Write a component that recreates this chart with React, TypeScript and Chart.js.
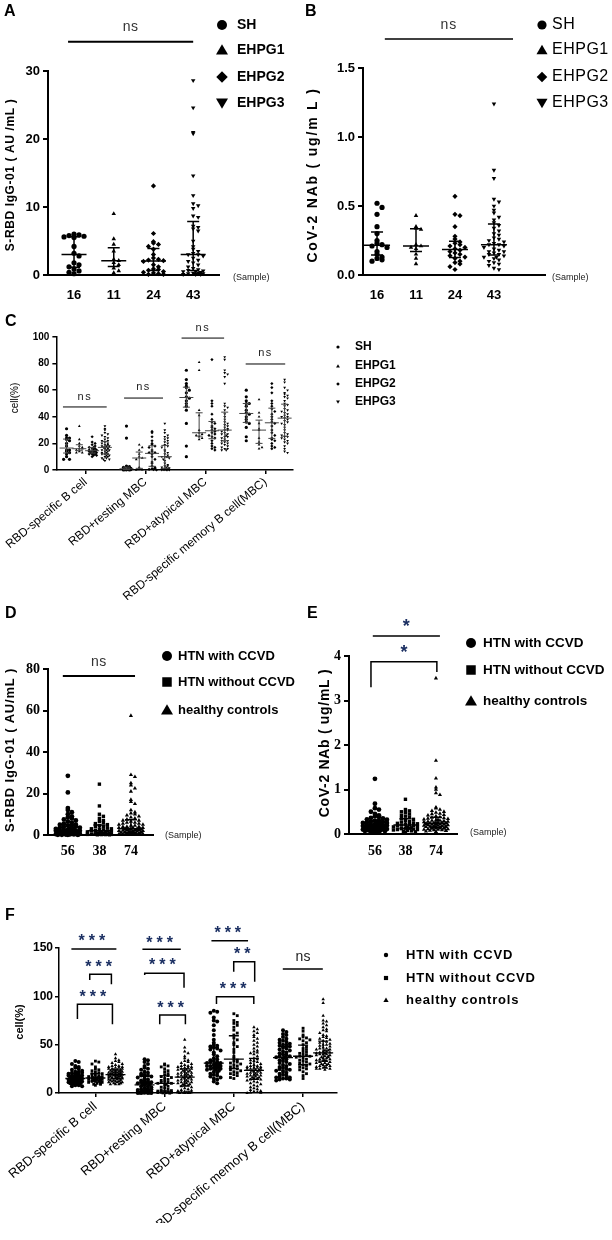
import React, { useEffect, useRef } from 'react';
import { Chart, registerables } from 'chart.js';

Chart.register(...registerables);

const W = 612;
const H = 1240;
const SANS = '"Liberation Sans", Arial, Helvetica, sans-serif';
const SERIF = '"Liberation Serif", "Times New Roman", serif';
const STAR = '#1b2f62';

// ---------------- Panel A : S-RBD IgG-01 (AU/mL) ----------------
const A_CATS = ['16', '11', '24', '43'];
const A_SH = [6.0, 5.9, 5.8, 5.7, 5.6, 5.5, 4.2, 3.2, 2.8, 1.8, 1.5, 1.2, 0.9, 0.6, 0.4, 0.2];
const A_EHPG1 = [9.0, 5.3, 4.5, 3.5, 2.3, 2.1, 1.8, 1.5, 1.0, 0.6, 0.3];
const A_EHPG2 = [13.1, 6.1, 4.9, 4.7, 4.5, 4.2, 3.8, 3.0, 2.5, 2.3, 2.2, 2.1, 2.0, 1.5, 1.2, 0.9, 0.8, 0.7, 0.5, 0.4, 0.3, 0.2, 0.1, 0.1];
const A_EHPG3 = [28.6, 24.6, 21.0, 20.8, 14.6, 11.7, 10.5, 10.2, 9.8, 8.7, 8.5, 7.2, 7.0, 6.8, 6.5, 5.0, 4.2, 3.8, 3.5, 3.2, 3.0, 3.0, 2.8, 2.5, 2.2, 2.0, 1.8, 1.5, 1.2, 1.0, 0.8, 0.7, 0.6, 0.5, 0.5, 0.4, 0.3, 0.3, 0.2, 0.2, 0.1, 0.1, 0.1];

// ---------------- Panel B : CoV-2 NAb (ug/mL) ----------------
const B_CATS = ['16', '11', '24', '43'];
const B_SH = [0.52, 0.49, 0.44, 0.35, 0.30, 0.25, 0.23, 0.22, 0.21, 0.20, 0.17, 0.15, 0.13, 0.12, 0.11, 0.10];
const B_EHPG1 = [0.43, 0.35, 0.34, 0.33, 0.22, 0.21, 0.20, 0.19, 0.15, 0.12, 0.08];
const B_EHPG2 = [0.57, 0.44, 0.43, 0.35, 0.28, 0.26, 0.24, 0.23, 0.22, 0.21, 0.20, 0.19, 0.18, 0.17, 0.16, 0.15, 0.14, 0.13, 0.12, 0.10, 0.09, 0.08, 0.06, 0.04];
const B_EHPG3 = [1.24, 0.76, 0.70, 0.55, 0.53, 0.50, 0.47, 0.45, 0.42, 0.40, 0.38, 0.36, 0.34, 0.32, 0.30, 0.29, 0.27, 0.26, 0.25, 0.24, 0.23, 0.22, 0.22, 0.21, 0.20, 0.19, 0.18, 0.17, 0.17, 0.16, 0.15, 0.15, 0.14, 0.13, 0.13, 0.12, 0.11, 0.10, 0.09, 0.08, 0.07, 0.05, 0.04];

// ---------------- Panel C : B-cell subsets (cell %) by EHPG ----------------
const C_CATS = ['RBD-specific B cell', 'RBD+resting MBC', 'RBD+atypical MBC', 'RBD-specific memory B cell(MBC)'];
const C_SH = [
  [31, 26, 24, 24, 23, 22, 20, 18, 15, 15, 14, 13, 12, 10, 8, 8],
  [33, 24, 3, 2.5, 2, 1.5, 1.2, 1, 0.8, 0.5, 0.5, 0.3, 0.2, 0.1, 0, 0],
  [75, 68, 65, 63, 62, 60, 58, 55, 54, 52, 50, 48, 45, 35, 18, 10],
  [60, 55, 52, 50, 50, 48, 45, 43, 42, 40, 38, 36, 35, 32, 25, 22],
];
const C_EHPG1 = [
  [33, 23, 20, 18, 17, 16, 16, 15, 14, 13, 13],
  [19, 17, 15, 12, 10, 9, 8, 2, 0.5, 0.2, 0],
  [81, 75, 45, 41, 30, 28, 27, 26, 25, 24, 23],
  [53, 43, 40, 35, 31, 30, 24, 21, 19, 17, 16],
];
const C_EHPG2 = [
  [25, 21, 20, 19, 18, 17, 17, 16, 16, 15, 15, 15, 14, 14, 14, 13, 13, 13, 12, 12, 12, 11, 11, 10],
  [29, 28, 25, 22, 20, 19, 18, 17, 15, 14, 13, 13, 12, 10, 8, 6, 5, 3, 2, 1, 1, 0.5, 0.3, 0],
  [83, 52, 50, 48, 42, 38, 36, 35, 33, 32, 31, 30, 29, 28, 27, 26, 25, 24, 22, 20, 18, 17, 16, 15],
  [65, 62, 58, 52, 50, 48, 46, 44, 42, 40, 38, 36, 35, 33, 30, 28, 26, 24, 23, 22, 20, 18, 17, 16],
];
const C_EHPG3 = [
  [33, 31, 30, 28, 27, 26, 25, 24, 23, 22, 22, 21, 20, 20, 19, 19, 18, 18, 18, 17, 17, 17, 16, 16, 15, 15, 15, 14, 14, 13, 13, 12, 12, 12, 11, 11, 10, 10, 9, 9, 8, 8, 7],
  [35, 30, 28, 26, 25, 24, 23, 22, 21, 20, 19, 18, 17, 15, 14, 13, 12, 11, 10, 10, 10, 10, 9, 8, 7, 5, 4, 3, 3, 2, 2, 1.5, 1, 1, 0.8, 0.5, 0.4, 0.3, 0.2, 0.1, 0, 0, 0],
  [85, 83, 75, 73, 72, 70, 65, 50, 48, 47, 45, 42, 40, 38, 36, 35, 34, 33, 32, 31, 30, 30, 29, 28, 27, 27, 26, 25, 25, 24, 23, 22, 22, 21, 20, 20, 19, 18, 17, 16, 16, 15, 15],
  [68, 66, 62, 60, 58, 57, 56, 55, 54, 52, 50, 49, 48, 46, 45, 44, 43, 42, 41, 40, 40, 39, 38, 37, 36, 35, 34, 32, 30, 28, 27, 26, 25, 25, 24, 23, 22, 21, 20, 18, 16, 14, 13],
];
const EHPG_LEGEND = ['SH', 'EHPG1', 'EHPG2', 'EHPG3'];

// ---------------- Panel D : S-RBD IgG-01 by HTN ----------------
const D_CATS = ['56', '38', '74'];
const D_WITH = [28.5, 20.5, 13, 12, 11, 10, 9, 8.5, 8, 7.5, 7, 6.5, 6, 5.5, 5, 5, 4.5, 4.5, 4, 4, 3.5, 3.5, 3, 3, 3, 2.5, 2.5, 2.5, 2, 2, 2, 2, 1.8, 1.5, 1.5, 1.5, 1.2, 1.2, 1, 1, 1, 0.8, 0.8, 0.7, 0.6, 0.5, 0.5, 0.4, 0.3, 0.3, 0.2, 0.2, 0.1, 0.1, 0.1, 0.1];
const D_WITHOUT = [24.5, 14, 10, 9, 8, 7, 6.5, 6, 5.5, 5, 4.5, 4, 4, 3.5, 3, 3, 2.8, 2.5, 2.2, 2, 2, 1.8, 1.5, 1.5, 1.2, 1, 1, 0.8, 0.7, 0.6, 0.5, 0.4, 0.3, 0.3, 0.2, 0.2, 0.1, 0.1];
const D_HEALTHY = [57.5, 29, 28, 25, 24, 22.5, 21, 17, 16, 15, 12, 11, 10.5, 10, 9.5, 9, 8.5, 8, 7.5, 7, 7, 6.5, 6, 6, 5.5, 5.5, 5, 5, 4.5, 4.5, 4, 4, 4, 3.5, 3.5, 3.5, 3, 3, 3, 3, 2.8, 2.5, 2.5, 2.5, 2.2, 2, 2, 2, 1.8, 1.8, 1.5, 1.5, 1.5, 1.2, 1.2, 1, 1, 1, 0.8, 0.8, 0.7, 0.6, 0.5, 0.5, 0.4, 0.4, 0.3, 0.3, 0.2, 0.2, 0.1, 0.1, 0.1, 0.1];

// ---------------- Panel E : CoV-2 NAb by HTN ----------------
const E_CATS = ['56', '38', '74'];
const E_WITH = [1.24, 0.68, 0.58, 0.55, 0.5, 0.45, 0.42, 0.4, 0.38, 0.36, 0.35, 0.33, 0.32, 0.3, 0.3, 0.28, 0.27, 0.26, 0.25, 0.25, 0.24, 0.23, 0.22, 0.22, 0.21, 0.2, 0.2, 0.19, 0.18, 0.18, 0.17, 0.16, 0.16, 0.15, 0.15, 0.14, 0.14, 0.13, 0.13, 0.12, 0.12, 0.11, 0.11, 0.1, 0.1, 0.09, 0.09, 0.08, 0.08, 0.07, 0.07, 0.06, 0.05, 0.05, 0.04, 0.03];
const E_WITHOUT = [0.78, 0.55, 0.52, 0.5, 0.48, 0.45, 0.42, 0.4, 0.38, 0.35, 0.33, 0.3, 0.28, 0.27, 0.25, 0.24, 0.23, 0.22, 0.21, 0.2, 0.19, 0.18, 0.17, 0.16, 0.15, 0.14, 0.13, 0.13, 0.12, 0.11, 0.1, 0.1, 0.09, 0.08, 0.07, 0.06, 0.05, 0.04];
const E_HEALTHY = [3.5, 1.65, 1.25, 1.05, 1.0, 0.92, 0.88, 0.6, 0.58, 0.55, 0.52, 0.5, 0.48, 0.46, 0.45, 0.43, 0.42, 0.4, 0.38, 0.37, 0.36, 0.35, 0.34, 0.33, 0.32, 0.31, 0.3, 0.3, 0.29, 0.28, 0.28, 0.27, 0.26, 0.26, 0.25, 0.25, 0.24, 0.24, 0.23, 0.23, 0.22, 0.22, 0.21, 0.21, 0.2, 0.2, 0.19, 0.19, 0.18, 0.18, 0.17, 0.17, 0.16, 0.16, 0.15, 0.15, 0.14, 0.14, 0.13, 0.13, 0.12, 0.12, 0.11, 0.11, 0.1, 0.1, 0.09, 0.09, 0.08, 0.08, 0.07, 0.06, 0.05, 0.04];

// ---------------- Panel F : B-cell subsets by HTN ----------------
const F_CATS = ['RBD-specific B cell', 'RBD+resting MBC', 'RBD+atypical MBC', 'RBD-specific memory B cell(MBC)'];
const F_WITH = [
  [33, 32, 30, 28, 27, 26, 25, 24, 23, 22, 22, 21, 21, 20, 20, 19, 19, 18, 18, 18, 17, 17, 17, 16, 16, 16, 16, 15, 15, 15, 15, 14, 14, 14, 14, 13, 13, 13, 13, 12, 12, 12, 12, 11, 11, 11, 10, 10, 10, 9, 9, 9, 8, 8, 7, 7],
  [35, 34, 32, 30, 28, 26, 25, 24, 22, 21, 20, 19, 18, 18, 17, 16, 15, 14, 13, 12, 12, 11, 11, 10, 10, 10, 9, 9, 8, 7, 7, 6, 5, 5, 4, 4, 3, 3, 2, 2, 2, 1.5, 1.5, 1, 1, 1, 0.8, 0.6, 0.5, 0.4, 0.3, 0.2, 0.1, 0, 0, 0],
  [85, 84, 83, 78, 75, 74, 70, 65, 60, 55, 52, 50, 49, 48, 47, 46, 45, 44, 42, 40, 38, 36, 35, 34, 33, 32, 32, 31, 31, 30, 30, 29, 29, 28, 28, 28, 27, 27, 26, 26, 25, 25, 24, 24, 23, 22, 21, 20, 19, 18, 17, 16, 15, 14, 12, 10],
  [65, 63, 61, 60, 58, 56, 55, 54, 53, 52, 51, 50, 50, 49, 48, 47, 46, 45, 44, 43, 42, 41, 40, 39, 38, 38, 37, 37, 36, 35, 34, 33, 32, 31, 30, 29, 28, 27, 26, 25, 25, 24, 23, 22, 21, 20, 19, 18, 17, 16, 16, 15, 15, 14, 14, 13],
];
const F_WITHOUT = [
  [33, 32, 30, 27, 25, 24, 23, 22, 21, 20, 20, 19, 18, 18, 17, 17, 16, 16, 16, 15, 15, 15, 14, 14, 14, 13, 13, 13, 12, 12, 12, 11, 11, 10, 10, 9, 9, 8],
  [30, 29, 28, 27, 25, 23, 22, 20, 19, 18, 17, 16, 15, 14, 13, 12, 11, 11, 10, 10, 9, 8, 7, 6, 5, 4, 3, 2.5, 2, 1.5, 1, 0.8, 0.6, 0.5, 0.3, 0.2, 0.1, 0],
  [82, 80, 75, 73, 72, 70, 68, 65, 62, 60, 57, 55, 52, 50, 48, 45, 42, 38, 36, 34, 33, 32, 31, 30, 29, 28, 27, 26, 25, 24, 23, 22, 21, 20, 19, 18, 16, 15],
  [67, 64, 60, 58, 57, 56, 55, 54, 52, 50, 48, 46, 45, 43, 42, 41, 40, 39, 38, 38, 37, 36, 35, 34, 33, 32, 31, 30, 29, 28, 27, 26, 25, 24, 22, 20, 18, 15],
];
const F_HEALTHY = [
  [40, 36, 34, 33, 32, 31, 30, 29, 28, 28, 27, 27, 26, 26, 25, 25, 25, 24, 24, 24, 23, 23, 23, 22, 22, 22, 22, 21, 21, 21, 21, 20, 20, 20, 20, 20, 19, 19, 19, 19, 18, 18, 18, 18, 17, 17, 17, 17, 16, 16, 16, 16, 15, 15, 15, 15, 14, 14, 14, 13, 13, 13, 12, 12, 12, 11, 11, 11, 10, 10, 10, 9, 9, 9],
  [55, 47, 43, 41, 38, 36, 34, 33, 32, 31, 30, 29, 28, 28, 27, 27, 26, 26, 25, 25, 24, 24, 23, 23, 22, 22, 21, 21, 20, 20, 19, 19, 18, 18, 17, 17, 17, 16, 16, 15, 15, 14, 14, 13, 13, 12, 12, 11, 11, 10, 10, 9, 9, 8, 8, 7, 6, 5, 4, 3, 2.5, 2, 1.5, 1, 1, 0.8, 0.6, 0.5, 0.4, 0.3, 0.2, 0.1, 0, 0],
  [68, 66, 64, 62, 60, 58, 56, 54, 52, 50, 48, 46, 44, 43, 42, 41, 40, 38, 36, 35, 34, 33, 32, 31, 30, 29, 28, 28, 27, 27, 26, 26, 25, 25, 25, 24, 24, 23, 23, 22, 22, 21, 21, 20, 20, 19, 19, 18, 18, 17, 17, 16, 16, 15, 15, 14, 14, 13, 12, 11, 10, 9, 8, 7, 6, 5, 4, 3, 2, 1.5, 1, 0.5, 0.2, 0],
  [97, 93, 80, 75, 74, 72, 70, 68, 66, 65, 64, 62, 60, 59, 58, 57, 56, 55, 54, 53, 52, 51, 50, 50, 49, 48, 47, 46, 46, 45, 45, 44, 44, 43, 43, 42, 42, 41, 41, 40, 40, 40, 39, 39, 38, 38, 37, 37, 36, 36, 35, 35, 34, 34, 33, 33, 32, 32, 31, 31, 30, 30, 29, 29, 28, 28, 27, 27, 26, 26, 25, 25, 25, 24],
];
const HTN_LEGEND = ['HTN with CCVD', 'HTN without CCVD', 'healthy controls'];

// ---------------- types & helpers ----------------
type Style = 'circle' | 'triangle' | 'rectRot' | 'rect' | 'invTri';
interface Grp { x: number; values: number[]; style: Style; r: number }
interface Sig { x1: number; x2: number; y: number; legs?: [number, number]; text: string; dy: number }
interface Txt { text: string; x: number; y: number; font: string; align?: CanvasTextAlign; rot?: boolean; ls?: number; color?: string }
interface Legend { x: number; tx: number; ys: number[]; labels: string[]; styles: Style[]; r: number; font: string; ls?: number }
interface FontSpec { family: string; size: number; weight?: any }
interface Panel {
  area: { l: number; t: number; r: number; b: number };
  xMin: number; xMax: number; yMax: number; yStep: number; yDec: number;
  cats: string[]; catPos: number[]; rot: number; xTicks: boolean; xPad: number;
  xFont: FontSpec; yFont: FontSpec; yTickLen: number; yPad: number; axisW: number;
  groups: Grp[]; dot: number; half: number;
  bar: { med: number; cap: number; w: number; color: string };
  sigW: number; sigFont: string; sigColor: string; sigLs: number; sigs: Sig[];
  texts: Txt[]; legend: Legend;
}

const EHPG_STYLES: Style[] = ['circle', 'triangle', 'rectRot', 'invTri'];
const HTN_STYLES: Style[] = ['circle', 'rect', 'triangle'];

function swarm(values: number[], cx: number, yPerPx: number, xPerPx: number, dot: number, half: number) {
  const slots = Math.max(0, Math.floor(half / dot));
  const n = 2 * slots + 1;
  const count = new Map<number, number>();
  const order = values.map((_, i) => i).sort((a, b) => values[b] - values[a]);
  const out: { x: number; y: number }[] = new Array(values.length);
  for (const i of order) {
    const v = values[i];
    const bin = Math.round(v / (yPerPx * dot));
    const k = count.get(bin) ?? 0;
    count.set(bin, k + 1);
    const kk = k % n;
    const layer = Math.floor(k / n);
    let off = kk === 0 ? 0 : (kk % 2 ? 1 : -1) * Math.ceil(kk / 2) * dot;
    if (layer % 2 === 1) {
      off += dot / 2;
      if (off > half) off -= dot;
    }
    out[i] = { x: cx + off * xPerPx, y: v };
  }
  return out;
}

function quant(s: number[], p: number) {
  const pos = (s.length - 1) * p;
  const lo = Math.floor(pos);
  const hi = Math.ceil(pos);
  return s[lo] + (s[hi] - s[lo]) * (pos - lo);
}

function drawText(ctx: CanvasRenderingContext2D, t: Txt) {
  ctx.save();
  ctx.font = t.font;
  ctx.fillStyle = t.color ?? '#000';
  ctx.textAlign = t.align ?? 'center';
  ctx.textBaseline = 'middle';
  (ctx as any).letterSpacing = `${t.ls ?? 0}px`;
  ctx.translate(t.x, t.y);
  if (t.rot) ctx.rotate(-Math.PI / 2);
  ctx.fillText(t.text, 0, 0);
  ctx.restore();
}

function drawMarker(ctx: CanvasRenderingContext2D, style: Style, x: number, y: number, r: number) {
  ctx.beginPath();
  if (style === 'circle') ctx.arc(x, y, r, 0, Math.PI * 2);
  else if (style === 'rect') ctx.rect(x - r * 0.95, y - r * 0.95, r * 1.9, r * 1.9);
  else if (style === 'rectRot') {
    ctx.moveTo(x, y - r * 1.15); ctx.lineTo(x + r * 1.15, y); ctx.lineTo(x, y + r * 1.15); ctx.lineTo(x - r * 1.15, y);
  } else if (style === 'triangle') {
    ctx.moveTo(x, y - r * 1.15); ctx.lineTo(x + r * 1.2, y + r * 0.9); ctx.lineTo(x - r * 1.2, y + r * 0.9);
  } else {
    ctx.moveTo(x, y + r * 1.15); ctx.lineTo(x + r * 1.2, y - r * 0.9); ctx.lineTo(x - r * 1.2, y - r * 0.9);
  }
  ctx.closePath();
  ctx.fillStyle = '#000';
  ctx.fill();
}

function extras(p: Panel) {
  return {
    id: 'extras',
    afterDatasetsDraw(chart: any) {
      const ctx: CanvasRenderingContext2D = chart.ctx;
      const xs = chart.scales.x;
      const ys = chart.scales.y;
      ctx.save();
      ctx.strokeStyle = p.bar.color;
      ctx.lineWidth = p.bar.w;
      for (const g of p.groups) {
        const s = [...g.values].sort((a, b) => a - b);
        const px = xs.getPixelForValue(g.x);
        const pm = ys.getPixelForValue(quant(s, 0.5));
        const p1 = ys.getPixelForValue(quant(s, 0.25));
        const p3 = ys.getPixelForValue(quant(s, 0.75));
        ctx.beginPath();
        ctx.moveTo(px - p.bar.med, pm); ctx.lineTo(px + p.bar.med, pm);
        ctx.moveTo(px, p1); ctx.lineTo(px, p3);
        ctx.moveTo(px - p.bar.cap, p1); ctx.lineTo(px + p.bar.cap, p1);
        ctx.moveTo(px - p.bar.cap, p3); ctx.lineTo(px + p.bar.cap, p3);
        ctx.stroke();
      }
      ctx.restore();
    },
    afterDraw(chart: any) {
      const ctx: CanvasRenderingContext2D = chart.ctx;
      const xs = chart.scales.x;
      const ys = chart.scales.y;
      ctx.save();
      ctx.strokeStyle = '#000';
      ctx.lineWidth = p.sigW;
      for (const s of p.sigs) {
        const x1 = xs.getPixelForValue(s.x1);
        const x2 = xs.getPixelForValue(s.x2);
        const y = ys.getPixelForValue(s.y);
        ctx.beginPath();
        if (s.legs) {
          ctx.moveTo(x1, ys.getPixelForValue(s.legs[0]));
          ctx.lineTo(x1, y); ctx.lineTo(x2, y);
          ctx.lineTo(x2, ys.getPixelForValue(s.legs[1]));
        } else {
          ctx.moveTo(x1, y); ctx.lineTo(x2, y);
        }
        ctx.stroke();
        if (s.text) drawText(ctx, { text: s.text, x: (x1 + x2) / 2, y: y + s.dy, font: p.sigFont, color: p.sigColor, ls: p.sigLs });
      }
      for (const t of p.texts) drawText(ctx, t);
      const L = p.legend;
      L.labels.forEach((lab, i) => {
        drawMarker(ctx, L.styles[i], L.x, L.ys[i], L.r);
        drawText(ctx, { text: lab, x: L.tx, y: L.ys[i], font: L.font, align: 'left', ls: L.ls });
      });
      ctx.restore();
    },
  };
}

const bold = (px: number, fam = SANS) => `bold ${px}px ${fam}`;
const reg = (px: number, fam = SANS) => `${px}px ${fam}`;

// ---------------- panel definitions ----------------
const PANEL_A: Panel = {
  area: { l: 48, t: 71, r: 219, b: 275 },
  xMin: -0.655, xMax: 3.65, yMax: 30, yStep: 10, yDec: 0,
  cats: A_CATS, catPos: [0, 1, 2, 3], rot: 0, xTicks: false, xPad: 13,
  xFont: { family: SANS, size: 13, weight: 'bold' }, yFont: { family: SANS, size: 13, weight: 'bold' },
  yTickLen: 5, yPad: 3, axisW: 2,
  groups: [A_SH, A_EHPG1, A_EHPG2, A_EHPG3].map((v, i) => ({ x: i, values: v, style: EHPG_STYLES[i], r: 2.6 })),
  dot: 5, half: 13,
  bar: { med: 12.5, cap: 6, w: 1.5, color: '#000' },
  sigW: 2, sigFont: reg(14), sigColor: '#333', sigLs: 0.5,
  sigs: [{ x1: -0.15, x2: 3.0, y: 34.3, text: 'ns', dy: -15 }],
  texts: [
    { text: 'A', x: 4, y: 12, font: bold(16), align: 'left' },
    { text: 'S-RBD IgG-01 ( AU /mL )', x: 11, y: 175, font: bold(12), rot: true, ls: 0.6 },
    { text: '(Sample)', x: 233, y: 278, font: reg(9), align: 'left', color: '#222' },
  ],
  legend: { x: 222, tx: 237, ys: [25, 50, 77, 103], labels: EHPG_LEGEND, styles: EHPG_STYLES, r: 5, font: bold(14) },
};

const PANEL_B: Panel = {
  area: { l: 363, t: 68, r: 545, b: 275 },
  xMin: -0.36, xMax: 4.31, yMax: 1.5, yStep: 0.5, yDec: 1,
  cats: B_CATS, catPos: [0, 1, 2, 3], rot: 0, xTicks: false, xPad: 13,
  xFont: { family: SANS, size: 13, weight: 'bold' }, yFont: { family: SANS, size: 13, weight: 'bold' },
  yTickLen: 5, yPad: 3, axisW: 2,
  groups: [B_SH, B_EHPG1, B_EHPG2, B_EHPG3].map((v, i) => ({ x: i, values: v, style: EHPG_STYLES[i], r: 2.6 })),
  dot: 5, half: 13,
  bar: { med: 13, cap: 6, w: 1.5, color: '#000' },
  sigW: 1.5, sigFont: reg(14), sigColor: '#333', sigLs: 1,
  sigs: [{ x1: 0.2, x2: 3.49, y: 1.71, text: 'ns', dy: -14 }],
  texts: [
    { text: 'B', x: 305, y: 12, font: bold(16), align: 'left' },
    { text: 'CoV-2 NAb ( ug/m L )', x: 313, y: 175, font: bold(14), rot: true, ls: 1.8 },
    { text: '(Sample)', x: 552, y: 278, font: reg(9), align: 'left', color: '#222' },
  ],
  legend: { x: 542, tx: 552, ys: [25, 50, 77, 103], labels: EHPG_LEGEND, styles: EHPG_STYLES, r: 4.6, font: reg(16), ls: 0.5 },
};

const C_OFF = [-0.32, -0.107, 0.107, 0.32];
const PANEL_C: Panel = {
  area: { l: 53, t: 337, r: 293, b: 470 },
  xMin: -0.49, xMax: 3.46, yMax: 100, yStep: 20, yDec: 0,
  cats: C_CATS, catPos: [0, 1, 2, 3], rot: 40, xTicks: true, xPad: 1,
  xFont: { family: SANS, size: 12 }, yFont: { family: SANS, size: 10, weight: 'bold' },
  yTickLen: 4, yPad: 3, axisW: 1.5,
  groups: C_CATS.flatMap((_, c) =>
    [C_SH, C_EHPG1, C_EHPG2, C_EHPG3].map((s, g) => ({ x: c + C_OFF[g], values: s[c], style: EHPG_STYLES[g], r: 1.6 }))),
  dot: 3, half: 5,
  bar: { med: 7, cap: 3.5, w: 1, color: '#444' },
  sigW: 1, sigFont: reg(11), sigColor: '#222', sigLs: 1.5,
  sigs: [
    { x1: -0.38, x2: 0.35, y: 47.4, text: 'ns', dy: -10 },
    { x1: 0.64, x2: 1.29, y: 54.1, text: 'ns', dy: -11 },
    { x1: 1.6, x2: 2.31, y: 99.2, text: 'ns', dy: -10 },
    { x1: 2.67, x2: 3.33, y: 79.7, text: 'ns', dy: -11 },
  ],
  texts: [
    { text: 'C', x: 5, y: 322, font: bold(16), align: 'left' },
    { text: 'cell(%)', x: 15, y: 398, font: reg(10), rot: true },
  ],
  legend: { x: 338, tx: 355, ys: [347, 366, 384, 402], labels: EHPG_LEGEND, styles: EHPG_STYLES, r: 1.6, font: bold(12) },
};

const PANEL_D: Panel = {
  area: { l: 48, t: 669, r: 153, b: 835 },
  xMin: -0.63, xMax: 2.7, yMax: 80, yStep: 20, yDec: 0,
  cats: D_CATS, catPos: [0, 1, 2], rot: 0, xTicks: false, xPad: 8,
  xFont: { family: SERIF, size: 14, weight: 'bold' }, yFont: { family: SERIF, size: 14, weight: 'bold' },
  yTickLen: 5, yPad: 3, axisW: 2,
  groups: [D_WITH, D_WITHOUT, D_HEALTHY].map((v, i) => ({ x: i, values: v, style: HTN_STYLES[i], r: 2.4 })),
  dot: 4, half: 12,
  bar: { med: 12, cap: 6, w: 1.5, color: '#000' },
  sigW: 2, sigFont: reg(14), sigColor: '#333', sigLs: 0.5,
  sigs: [{ x1: -0.16, x2: 2.13, y: 76.6, text: 'ns', dy: -14 }],
  texts: [
    { text: 'D', x: 5, y: 614, font: bold(16), align: 'left' },
    { text: 'S-RBD IgG-01 ( AU/mL )', x: 10, y: 750, font: bold(13), rot: true, ls: 0.8 },
    { text: '(Sample)', x: 165, y: 836, font: reg(9), align: 'left', color: '#222' },
  ],
  legend: { x: 167, tx: 178, ys: [656, 682, 710], labels: HTN_LEGEND, styles: HTN_STYLES, r: 5, font: bold(13) },
};

const PANEL_E: Panel = {
  area: { l: 349, t: 656, r: 457, b: 834 },
  xMin: -0.85, xMax: 2.69, yMax: 4, yStep: 1, yDec: 0,
  cats: E_CATS, catPos: [0, 1, 2], rot: 0, xTicks: false, xPad: 9,
  xFont: { family: SERIF, size: 14, weight: 'bold' }, yFont: { family: SERIF, size: 14, weight: 'bold' },
  yTickLen: 5, yPad: 3, axisW: 2,
  groups: [E_WITH, E_WITHOUT, E_HEALTHY].map((v, i) => ({ x: i, values: v, style: HTN_STYLES[i], r: 2.4 })),
  dot: 4, half: 12,
  bar: { med: 12, cap: 6, w: 1.5, color: '#000' },
  sigW: 1.5, sigFont: bold(18), sigColor: STAR, sigLs: 0,
  sigs: [
    { x1: -0.07, x2: 2.13, y: 4.45, text: '*', dy: -9 },
    { x1: -0.13, x2: 2.03, y: 3.87, legs: [3.3, 3.64], text: '*', dy: -9 },
  ],
  texts: [
    { text: 'E', x: 307, y: 614, font: bold(16), align: 'left' },
    { text: 'CoV-2 NAb ( ug/mL )', x: 325, y: 743, font: bold(14), rot: true, ls: 0.7 },
    { text: '(Sample)', x: 470, y: 833, font: reg(9), align: 'left', color: '#222' },
  ],
  legend: { x: 471, tx: 483, ys: [643, 670, 701], labels: HTN_LEGEND, styles: HTN_STYLES, r: 5, font: bold(13.5) },
};

const F_OFF = [-0.29, 0, 0.29];
const PANEL_F: Panel = {
  area: { l: 59, t: 948, r: 337, b: 1093 },
  xMin: -0.526, xMax: 3.49, yMax: 150, yStep: 50, yDec: 0,
  cats: F_CATS, catPos: [0, 1, 2, 3], rot: 40, xTicks: true, xPad: 2,
  xFont: { family: SANS, size: 13 }, yFont: { family: SANS, size: 12, weight: 'bold' },
  yTickLen: 4, yPad: 2, axisW: 1.5,
  groups: F_CATS.flatMap((_, c) =>
    [F_WITH, F_WITHOUT, F_HEALTHY].map((s, g) => ({ x: c + F_OFF[g], values: s[c], style: HTN_STYLES[g], r: 2 }))),
  dot: 3.4, half: 8,
  bar: { med: 10, cap: 5, w: 1.3, color: '#000' },
  sigW: 1.5, sigFont: bold(16), sigColor: STAR, sigLs: 4,
  sigs: [
    { x1: -0.347, x2: 0.303, y: 149, text: '***', dy: -7 },
    { x1: -0.082, x2: 0.231, y: 122.8, legs: [116.9, 112.4], text: '***', dy: -7 },
    { x1: -0.26, x2: 0.246, y: 91.8, legs: [76.6, 71.1], text: '***', dy: -7 },
    { x1: 0.679, x2: 1.233, y: 148.7, text: '***', dy: -6 },
    { x1: 0.712, x2: 1.28, y: 123.8, legs: [122.1, 108.9], text: '***', dy: -8 },
    { x1: 0.929, x2: 1.3, y: 80.7, legs: [71.1, 71.1], text: '***', dy: -6 },
    { x1: 1.676, x2: 2.205, y: 157.6, text: '***', dy: -7 },
    { x1: 1.998, x2: 2.301, y: 135.8, legs: [125.5, 115.1], text: '**', dy: -7 },
    { x1: 1.749, x2: 2.288, y: 99.6, legs: [92.1, 92.1], text: '***', dy: -7 },
    { x1: 2.707, x2: 3.285, y: 128.3, text: '', dy: 0 },
  ],
  texts: [
    { text: 'F', x: 5, y: 916, font: bold(16), align: 'left' },
    { text: 'cell(%)', x: 20, y: 1022, font: bold(11), rot: true },
    { text: 'ns', x: 303, y: 957, font: reg(14), color: '#222' },
  ],
  legend: { x: 386, tx: 406, ys: [955, 978, 1000], labels: HTN_LEGEND, styles: HTN_STYLES, r: 2.2, font: bold(13), ls: 0.8 },
};

const PANELS: Panel[] = [PANEL_A, PANEL_B, PANEL_C, PANEL_D, PANEL_E, PANEL_F];

function PanelChart({ p }: { p: Panel }) {
  const ref = useRef<HTMLCanvasElement>(null);
  useEffect(() => {
    const cv = ref.current;
    if (!cv) return;
    const { l, t, r, b } = p.area;
    const yPerPx = p.yMax / (b - t);
    const xPerPx = (p.xMax - p.xMin) / (r - l);
    const datasets = p.groups.map((g) => ({
      data: swarm(g.values, g.x, yPerPx, xPerPx, p.dot, p.half),
      pointStyle: g.style === 'invTri' ? 'triangle' : g.style,
      pointRotation: g.style === 'invTri' ? 180 : 0,
      pointRadius: g.r,
      pointHoverRadius: g.r,
      backgroundColor: '#000',
      borderColor: '#000',
      borderWidth: 0,
      showLine: false,
      clip: false,
    }));
    const YW = 40;
    const XH = p.rot ? 130 : 30;
    const chart = new Chart(cv, {
      type: 'scatter',
      data: { datasets } as any,
      options: {
        animation: false,
        responsive: false,
        devicePixelRatio: 1,
        events: [],
        layout: { padding: { left: l - YW, top: t, right: W - r, bottom: H - b - XH } },
        plugins: { legend: { display: false }, tooltip: { enabled: false } },
        scales: {
          x: {
            type: 'linear',
            min: p.xMin,
            max: p.xMax,
            afterBuildTicks: (s: any) => { s.ticks = p.catPos.map((v) => ({ value: v })); },
            afterFit: (s: any) => { s.height = XH; },
            grid: { display: true, drawOnChartArea: false, drawTicks: p.xTicks, tickLength: 4, color: '#000', lineWidth: p.axisW },
            border: { display: true, color: '#000', width: p.axisW },
            ticks: {
              autoSkip: false,
              maxRotation: p.rot,
              minRotation: p.rot,
              padding: p.xPad,
              color: '#000',
              font: p.xFont as any,
              callback: (v: any) => p.cats[p.catPos.indexOf(Number(v))] ?? '',
            },
          },
          y: {
            type: 'linear',
            min: 0,
            max: p.yMax,
            afterFit: (s: any) => { s.width = YW; },
            grid: { display: true, drawOnChartArea: false, drawTicks: true, tickLength: p.yTickLen, color: '#000', lineWidth: p.axisW },
            border: { display: true, color: '#000', width: p.axisW },
            ticks: {
              stepSize: p.yStep,
              padding: p.yPad,
              color: '#000',
              font: p.yFont as any,
              callback: (v: any) => Number(v).toFixed(p.yDec),
            },
          },
        },
      } as any,
      plugins: [extras(p) as any],
    });
    return () => chart.destroy();
  }, [p]);
  return (
    <canvas
      ref={ref}
      width={W}
      height={H}
      style={{ position: 'absolute', left: 0, top: 0, width: W, height: H }}
    />
  );
}

export default function App() {
  return (
    <div style={{ position: 'absolute', left: 0, top: 0, width: W, height: H, background: '#fff', overflow: 'hidden' }}>
      {PANELS.map((p, i) => (
        <PanelChart key={i} p={p} />
      ))}
    </div>
  );
}
